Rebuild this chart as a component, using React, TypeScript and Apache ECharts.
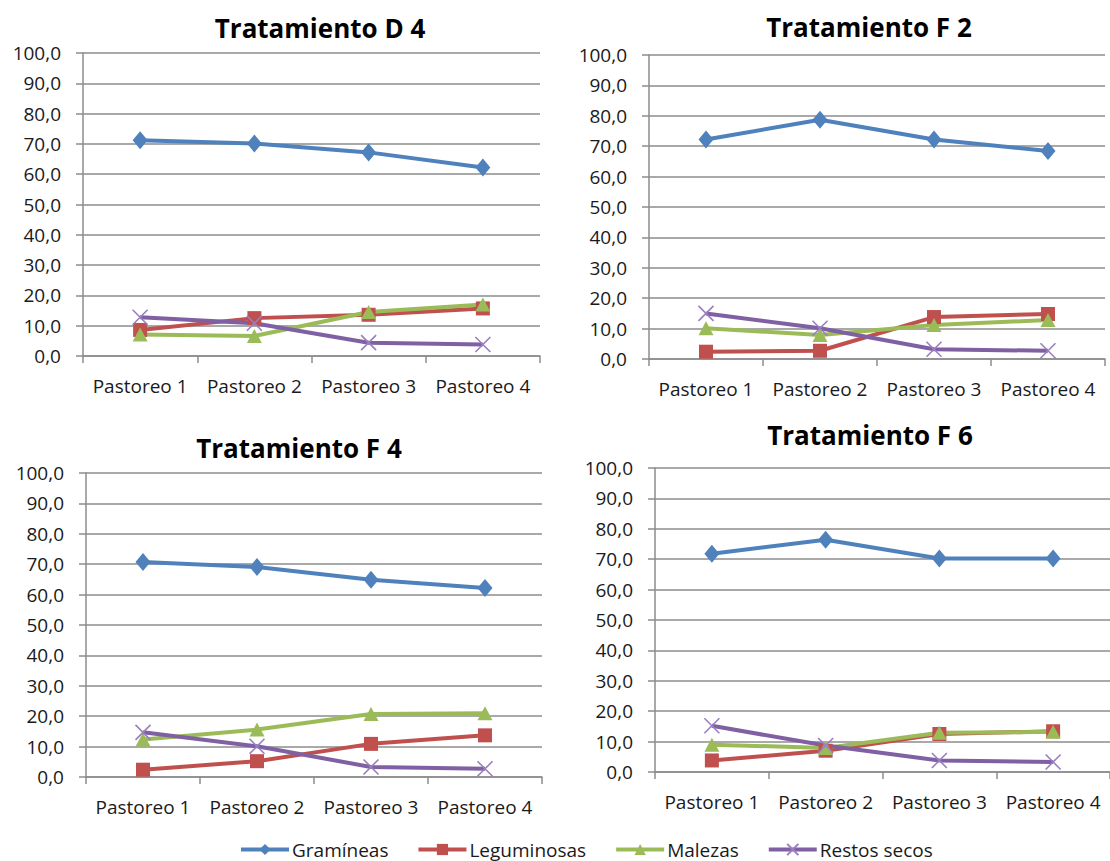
import React, { useEffect, useRef } from "react";
import * as echarts from "echarts";

// Grazing rounds shown on every panel
const categories = ["Pastoreo 1", "Pastoreo 2", "Pastoreo 3", "Pastoreo 4"];
const seriesNames = ["Gramíneas", "Leguminosas", "Malezas", "Restos secos"];
const panelTitles = ["Tratamiento D 4", "Tratamiento F 2", "Tratamiento F 4", "Tratamiento F 6"];

// Botanical composition (%) per treatment
const d4Gramineas = [71.2, 70.1, 67.2, 62.2];
const d4Leguminosas = [8.6, 12.5, 13.6, 15.7];
const d4Malezas = [7.1, 6.6, 14.5, 17.0];
const d4Restos = [12.8, 10.8, 4.4, 3.8];

const f2Gramineas = [72.2, 78.7, 72.2, 68.4];
const f2Leguminosas = [2.4, 2.7, 13.8, 14.8];
const f2Malezas = [10.1, 7.9, 11.2, 12.8];
const f2Restos = [15.0, 10.1, 3.2, 2.7];

const f4Gramineas = [70.7, 69.1, 64.9, 62.2];
const f4Leguminosas = [2.4, 5.2, 10.9, 13.7];
const f4Malezas = [12.3, 15.6, 20.7, 21.0];
const f4Restos = [14.7, 10.1, 3.3, 2.7];

const f6Gramineas = [71.8, 76.4, 70.2, 70.2];
const f6Leguminosas = [3.8, 7.0, 12.5, 13.4];
const f6Malezas = [9.0, 7.9, 12.9, 13.2];
const f6Restos = [15.2, 8.7, 3.8, 3.3];

const panels = [
  [d4Gramineas, d4Leguminosas, d4Malezas, d4Restos],
  [f2Gramineas, f2Leguminosas, f2Malezas, f2Restos],
  [f4Gramineas, f4Leguminosas, f4Malezas, f4Restos],
  [f6Gramineas, f6Leguminosas, f6Malezas, f6Restos],
];

const yMin = 0;
const yMax = 100;
const yStep = 10;

const colors = ["#4F81BD", "#C0504D", "#9BBB59", "#7F60A2"];
const crossPath = "path://M0,0L10,10M10,0L0,10";

const gridBoxes = [
  { left: 83, top: 53, width: 457, height: 303 },
  { left: 649, top: 55, width: 456, height: 304 },
  { left: 86, top: 473, width: 456, height: 304 },
  { left: 655, top: 468, width: 456, height: 304 },
];
const titlePos = [
  { x: 320, y: 28 },
  { x: 869, y: 27 },
  { x: 299, y: 448 },
  { x: 870, y: 435 },
];

const FONT = "'Open Sans', sans-serif";
const GRID_GRAY = "#8C8C8C";
const TEXT_COLOR = "#1a1a1a";

function seriesStyle(k: number) {
  const base: any = {
    type: "line",
    name: seriesNames[k],
    lineStyle: { width: 4, color: colors[k] },
    itemStyle: { color: colors[k] },
    emphasis: { disabled: true },
  };
  if (k === 0) {
    base.symbol = "diamond";
    base.symbolSize = [15, 18];
  } else if (k === 1) {
    base.symbol = "rect";
    base.symbolSize = 14;
  } else if (k === 2) {
    base.symbol = "triangle";
    base.symbolSize = [15, 14];
  } else {
    base.symbol = crossPath;
    base.symbolSize = 15;
    base.itemStyle = { color: "none", borderColor: "#9A7FC0", borderWidth: 1.6 };
  }
  return base;
}

export default function App() {
  const ref = useRef<HTMLDivElement>(null);

  useEffect(() => {
    if (!ref.current) return;
    const chart = echarts.init(ref.current, undefined, { renderer: "svg" });

    const grid = gridBoxes.map((g) => ({ ...g, containLabel: false }));

    const xAxis = gridBoxes.map((_, i) => ({
      type: "category",
      gridIndex: i,
      data: categories,
      boundaryGap: true,
      axisLine: { show: true, lineStyle: { color: GRID_GRAY, width: 1.5 } },
      axisTick: { show: true, length: 7, alignWithLabel: false, lineStyle: { color: GRID_GRAY, width: 1.5 } },
      axisLabel: { color: TEXT_COLOR, fontSize: 19, fontFamily: FONT, margin: 20, interval: 0 },
      splitLine: { show: false },
    }));

    const yAxis = gridBoxes.map((_, i) => ({
      type: "value",
      gridIndex: i,
      min: yMin,
      max: yMax,
      interval: yStep,
      axisLine: { show: true, lineStyle: { color: GRID_GRAY, width: 1.5 } },
      axisTick: { show: true, length: 7, lineStyle: { color: GRID_GRAY, width: 1.5 } },
      axisLabel: {
        color: TEXT_COLOR,
        fontSize: 19,
        fontFamily: FONT,
        margin: 22,
        formatter: (v: number) => v.toFixed(1).replace(".", ","),
      },
      splitLine: { show: true, lineStyle: { color: GRID_GRAY, width: 1.5 } },
    }));

    const series: any[] = [];
    panels.forEach((panel, i) => {
      panel.forEach((values, k) => {
        series.push({
          ...seriesStyle(k),
          xAxisIndex: i,
          yAxisIndex: i,
          data: values,
        });
      });
    });

    const graphic = panelTitles.map((t, i) => ({
      type: "text",
      x: titlePos[i].x,
      y: titlePos[i].y,
      style: {
        text: t,
        fontSize: 26,
        fontWeight: "bold",
        fontFamily: FONT,
        fill: "#000",
        textAlign: "center",
        textVerticalAlign: "middle",
      },
    }));

    chart.setOption({
      animation: false,
      backgroundColor: "#ffffff",
      grid,
      xAxis,
      yAxis,
      series,
      graphic,
      legend: {
        data: seriesNames,
        left: 239,
        top: 840,
        padding: 0,
        itemWidth: 48,
        itemHeight: 14,
        itemGap: 28,
        lineStyle: { width: 4 },
        textStyle: { fontSize: 19, fontFamily: FONT, color: TEXT_COLOR, padding: [0, 0, 0, -2] },
        selectedMode: false,
      },
    });

    return () => chart.dispose();
  }, []);

  return (
    <div
      ref={ref}
      style={{ position: "absolute", left: 0, top: 0, width: 1110, height: 861 }}
    />
  );
}
